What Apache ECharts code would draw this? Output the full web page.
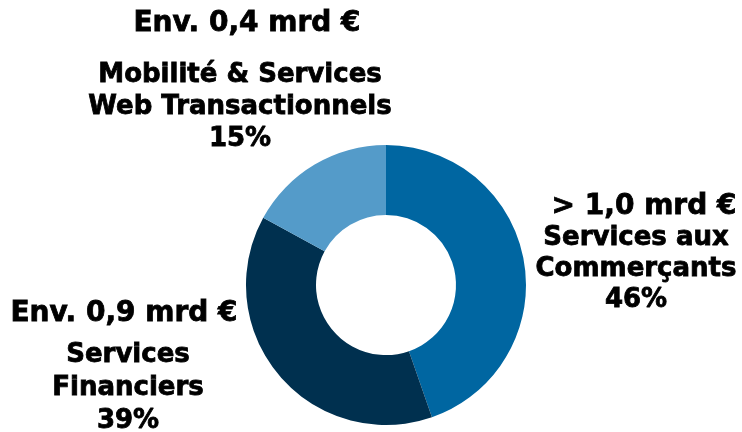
<!DOCTYPE html>
<html>
<head>
<meta charset="utf-8">
<script src="https://cdn.jsdelivr.net/npm/echarts@6/dist/echarts.min.js"></script>
<style>
  html, body { margin: 0; padding: 0; background: #fff; }
  #chart { width: 742px; height: 432px; }
</style>
</head>
<body>
<div id="chart"></div>
<script>
// slices, clockwise from 12 o'clock
const categories = ['Services aux\nCommerçants', 'Services\nFinanciers', 'Mobilité & Services\nWeb Transactionnels']
const amounts = ['> 1,0 mrd €', 'Env. 0,9 mrd €', 'Env. 0,4 mrd €']
const shares = ['46%', '39%', '15%']
// mrd €
const revenues = [1.05, 0.9, 0.4]

const colors = ['#0066a1', '#00304f', '#549bc9']

// where each label block sits (top centre of the block)
const labelSpots = [
  { x: 636, y: 191, gap: 0, lh: 31, pad: [0, 0, 0, 16] },
  { x: 128, y: 297.5, gap: 9, lh: 33, pad: [0, 8, 0, 0] },
  { x: 240, y: 7.5, gap: 19.5, lh: 32, pad: [0, 0, 0, 14] }
]

const font = 'DejaVu Sans'

const chart = echarts.init(document.getElementById('chart'))

const data = revenues.map((v, i) => {
  const spot = labelSpots[i]
  const text = '{a|' + amounts[i] + '}\n' +
    (spot.gap ? '{s|}\n' : '') +
    '{b|' + categories[i] + '\n' + shares[i] + '}'
  // heavier strokes, closer to the original Verdana bold
  const ink = { fontFamily: font, fontWeight: 'bold', color: '#000', textBorderColor: '#000', textBorderWidth: 0.8 }
  return {
    value: v,
    name: categories[i],
    itemStyle: { color: colors[i] },
    label: {
      formatter: text,
      rich: {
        a: { ...ink, fontSize: 28, lineHeight: 32, padding: spot.pad },
        s: { height: spot.gap, lineHeight: spot.gap },
        b: { ...ink, fontSize: 26, lineHeight: spot.lh }
      }
    }
  }
})

chart.setOption({
  animation: false,
  series: [
    {
      type: 'pie',
      center: [386, 285],
      radius: [70, 140],
      startAngle: 90,
      clockwise: true,
      avoidLabelOverlap: false,
      itemStyle: { borderWidth: 0 },
      label: { show: true, position: 'outside', align: 'center' },
      labelLine: { show: false },
      labelLayout: params => {
        const spot = labelSpots[params.dataIndex]
        return { x: spot.x, y: spot.y, align: 'center', verticalAlign: 'top', hideOverlap: false }
      },
      emphasis: { disabled: true },
      data: data
    }
  ]
})
</script>
</body>
</html>
